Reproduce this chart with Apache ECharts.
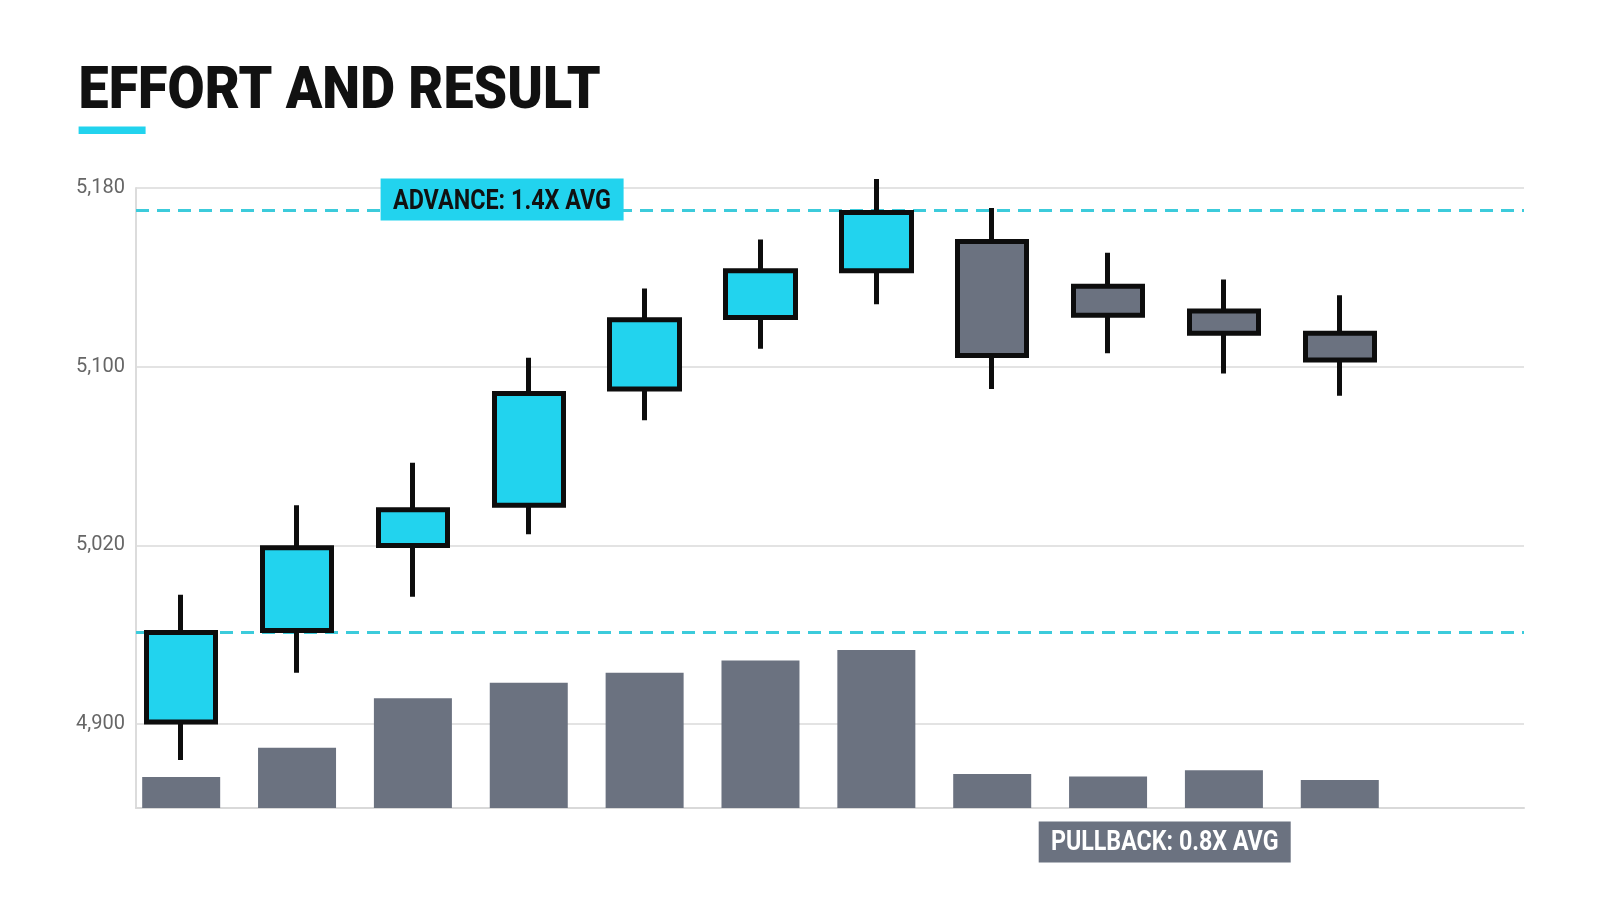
<!DOCTYPE html>
<html><head><meta charset="utf-8">
<script src="https://cdn.jsdelivr.net/npm/echarts@6/dist/echarts.min.js"></script>
<style>html,body{margin:0;padding:0;background:#fff}#chart{width:1600px;height:914px}</style>
</head><body><div id="chart"></div>
<script>
// ---- data ----
const sessions = [0, 1, 2, 3, 4, 5, 6, 7, 8, 9, 10];
const openP  = [4941, 4982, 5020, 5038, 5090, 5122, 5143, 5156, 5136, 5125, 5115];
const closeP = [4981, 5019, 5036, 5088, 5121, 5143, 5169, 5105, 5123, 5115, 5103];
const lowP   = [4924, 4963, 4997, 5025, 5076, 5108, 5128, 5090, 5106, 5097, 5087];
const highP  = [4998, 5038, 5057, 5104, 5135, 5157, 5184, 5171, 5151, 5139, 5132];
const volume = [5.0, 9.7, 17.7, 20.2, 21.8, 23.8, 25.5, 5.5, 5.1, 6.1, 4.5];
const priceTicks = [4940, 5020, 5100, 5180];
const priceTickLabels = ['4,900', '5,020', '5,100', '5,180'];
const advanceLevel = 5170;
const pullbackLevel = 4981;
const titleText = 'EFFORT AND RESULT';
const advanceText = 'ADVANCE: 1.4X AVG';
const pullbackText = 'PULLBACK: 0.8X AVG';

// ---- helpers ----
const cv = document.createElement('canvas').getContext('2d');
function fitScale(text, font, target) {
  cv.font = font;
  const w = cv.measureText(text).width;
  return w > 0 ? target / w : 1;
}
const CYAN = '#22d3ee';
const GRAY = '#6b7280';
const titleFont = '900 60px Roboto';
const tagFont = 'bold 27px Roboto';

const chart = echarts.init(document.getElementById('chart'), null, {renderer: 'canvas'});
chart.setOption({
  backgroundColor: '#ffffff',
  animation: false,
  grid: {left: 136, right: 76, top: 188, bottom: 106},
  xAxis: {
    type: 'value', min: -0.39, max: 11.59,
    axisLine: {show: true, onZero: false, lineStyle: {color: '#d9d9d9', width: 2}},
    axisTick: {show: false}, axisLabel: {show: false}, splitLine: {show: false}
  },
  yAxis: [{
    type: 'value', min: 4902.5, max: 5180,
    axisLine: {show: true, onZero: false, lineStyle: {color: '#dcdcdc', width: 2}},
    axisTick: {show: false, customValues: priceTicks},
    axisLabel: {
      customValues: priceTicks,
      formatter: v => { const i = priceTicks.indexOf(v); return i >= 0 ? priceTickLabels[i] : ''; },
      color: '#666666', fontSize: 20, fontFamily: 'Roboto', margin: 11
    },
    splitLine: {show: true, lineStyle: {color: '#e3e3e3', width: 2}}
  }, {
    type: 'value', min: 0, max: 100, show: false
  }],
  series: [{
    type: 'bar',
    xAxisIndex: 0, yAxisIndex: 1,
    data: sessions.map(i => [i, volume[i]]),
    barWidth: 78,
    itemStyle: {color: GRAY},
    z: 2
  }, {
    type: 'candlestick',
    xAxisIndex: 0, yAxisIndex: 0,
    data: sessions.map(i => [i, openP[i], closeP[i], lowP[i], highP[i]]),
    barWidth: 70,
    clip: false,
    itemStyle: {color: CYAN, color0: GRAY, borderColor: '#0d0d0d', borderColor0: '#0d0d0d', borderWidth: 5},
    z: 3,
    markLine: {
      z: 1, silent: true, symbol: ['none', 'none'],
      label: {show: false},
      lineStyle: {color: '#3ccbdb', width: 3, type: [13, 8]},
      data: [{yAxis: advanceLevel}, {yAxis: pullbackLevel}]
    }
  }],
  graphic: [
    {type: 'rect', shape: {x: 78.6, y: 126.5, width: 67, height: 7.5}, style: {fill: CYAN}},
    {type: 'text', x: 78.6, y: 93, scaleX: fitScale(titleText, titleFont, 522),
     style: {text: titleText, font: titleFont, fill: '#111111', textAlign: 'left', textVerticalAlign: 'middle'}},
    {type: 'rect', z: 10, shape: {x: 380.6, y: 178.6, width: 243, height: 42}, style: {fill: CYAN}},
    {type: 'text', z: 11, x: 502, y: 202, scaleX: fitScale(advanceText, tagFont, 218),
     style: {text: advanceText, font: tagFont, fill: '#111111', textAlign: 'center', textVerticalAlign: 'middle'}},
    {type: 'rect', z: 10, shape: {x: 1038.7, y: 821.4, width: 252, height: 41}, style: {fill: GRAY}},
    {type: 'text', z: 11, x: 1164.7, y: 843.5, scaleX: fitScale(pullbackText, tagFont, 227.6),
     style: {text: pullbackText, font: tagFont, fill: '#ffffff', textAlign: 'center', textVerticalAlign: 'middle'}}
  ]
});
</script>
</body></html>
